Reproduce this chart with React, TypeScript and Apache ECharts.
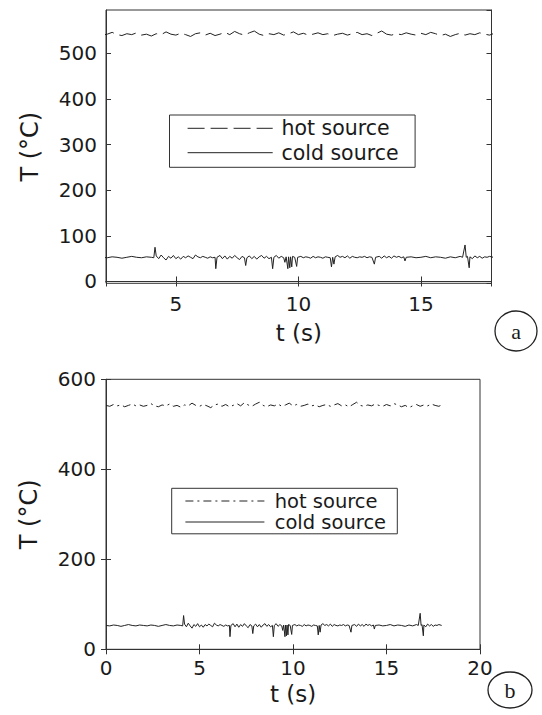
import React, { useEffect, useRef } from "react";
import * as echarts from "echarts";

// ---- data (shared by panels a and b) ----
const coldTimes = [
  0.0, 0.2, 0.4, 0.6, 0.8, 1.0, 1.2, 1.4, 1.6, 1.8, 2.0, 2.2, 2.4, 2.6, 2.8, 3.0, 3.2, 3.4, 3.6, 3.8,
  4.0, 4.1, 4.15, 4.2, 4.3, 4.4, 4.5, 4.6, 4.7, 4.8, 4.9, 5.0, 5.1, 5.2, 5.3, 5.4, 5.5, 5.6, 5.7, 5.8,
  5.9, 6.0, 6.1, 6.2, 6.3, 6.4, 6.5, 6.6, 6.63, 6.68, 6.8, 6.9, 7.0, 7.1, 7.2, 7.3, 7.4, 7.5, 7.6, 7.7,
  7.8, 7.85, 7.9, 8.0, 8.1, 8.2, 8.3, 8.4, 8.5, 8.6, 8.7, 8.8, 8.9, 8.95, 9.0, 9.1, 9.2, 9.3, 9.4, 9.45,
  9.5, 9.57, 9.6, 9.65, 9.68, 9.73, 9.76, 9.85, 9.93, 9.97, 10.1, 10.2, 10.3, 10.4, 10.5, 10.6, 10.7, 10.8, 10.9, 11.0,
  11.1, 11.2, 11.3, 11.35, 11.4, 11.45, 11.5, 11.6, 11.7, 11.8, 11.9, 12.0, 12.1, 12.2, 12.3, 12.4, 12.5, 12.6, 12.7, 12.8,
  12.9, 13.0, 13.1, 13.15, 13.3, 13.4, 13.5, 13.6, 13.7, 13.8, 13.9, 14.0, 14.1, 14.2, 14.3, 14.35, 14.4, 14.6, 14.8, 15.0,
  15.2, 15.4, 15.6, 15.8, 16.0, 16.2, 16.4, 16.6, 16.7, 16.8, 16.85, 16.9, 16.97, 17.0, 17.1, 17.2, 17.3, 17.4, 17.5, 17.6,
  17.7, 17.8, 17.95,
];
const coldTemps = [
  53, 52, 54, 53, 51, 53, 55, 53, 52, 54, 53, 52, 54, 53, 51, 53, 55, 53, 52, 54,
  53, 52, 75, 56, 50, 58, 52, 47, 55, 51, 57, 50, 54, 49, 55, 52, 56, 53, 50, 58,
  54, 52, 55, 53, 51, 54, 52, 53, 28, 53, 57, 50, 56, 49, 55, 51, 57, 52, 48, 55,
  52, 35, 52, 56, 50, 55, 49, 54, 57, 51, 55, 50, 53, 28, 53, 57, 51, 55, 52, 42,
  54, 28, 54, 30, 54, 32, 55, 53, 33, 53, 55, 52, 54, 53, 51, 55, 52, 54, 53, 51,
  54, 53, 52, 32, 53, 38, 54, 57, 53, 55, 52, 56, 51, 55, 53, 52, 54, 53, 55, 52,
  54, 53, 38, 53, 55, 51, 56, 52, 55, 51, 56, 53, 55, 52, 54, 45, 53, 54, 52, 53,
  55, 52, 54, 53, 51, 54, 52, 55, 53, 80, 53, 55, 30, 54, 50, 56, 52, 55, 51, 54,
  53, 55, 53,
];
const hotTimes = [
  0.0, 0.2, 0.4, 0.6, 0.8, 1.0, 1.2, 1.4, 1.6, 1.8, 2.0, 2.2, 2.4, 2.6, 2.8, 3.0, 3.2, 3.4, 3.6, 3.8,
  4.0, 4.2, 4.4, 4.6, 4.8, 5.0, 5.2, 5.4, 5.6, 5.8, 6.0, 6.2, 6.4, 6.6, 6.8, 7.0, 7.2, 7.4, 7.6, 7.8,
  8.0, 8.2, 8.4, 8.6, 8.8, 9.0, 9.2, 9.4, 9.6, 9.8, 10.0, 10.2, 10.4, 10.6, 10.8, 11.0, 11.2, 11.4, 11.6, 11.8,
  12.0, 12.2, 12.4, 12.6, 12.8, 13.0, 13.2, 13.4, 13.6, 13.8, 14.0, 14.2, 14.4, 14.6, 14.8, 15.0, 15.2, 15.4, 15.6, 15.8,
  16.0, 16.2, 16.4, 16.6, 16.8, 17.0, 17.2, 17.4, 17.6, 17.8, 17.95,
];
const hotTemps = [
  542, 540, 544, 541, 543, 539, 542, 545, 541, 543, 540, 542, 546, 541, 539, 543, 541, 545, 540, 542,
  538, 543, 541, 547, 542, 540, 544, 541, 537, 543, 545, 540, 544, 539, 542, 546, 541, 548, 543, 540,
  545, 549, 542, 539, 543, 541, 545, 540, 543, 547, 541, 544, 540, 542, 545, 541, 543, 539, 542, 544,
  540, 543, 546, 541, 543, 539, 544, 549, 542, 540, 543, 541, 545, 542, 540, 544, 541, 546, 543, 539,
  542, 537, 541, 544, 540, 543, 541, 545, 542, 540, 543,
];

const seriesNames = ["hot source", "cold source"];
const panelTags = ["a", "b"];
const xTicksA = [5, 10, 15];
const yTicksA = [0, 100, 200, 300, 400, 500];

const FONT = "DejaVu Sans";
const INK = "#1a1a1a";

function zip(ts: number[], vs: number[]) {
  return ts.map((t, i) => [t, vs[i]]);
}

export default function App() {
  const ref = useRef<HTMLDivElement>(null);
  useEffect(() => {
    if (!ref.current) return;
    const chart = echarts.init(ref.current, undefined, { renderer: "svg" });
    const hot = zip(hotTimes, hotTemps);
    const cold = zip(coldTimes, coldTemps);

    const gridA = { left: 106, top: 10, width: 385.5, height: 273.3 };
    const gridB = { left: 106, top: 379.3, width: 374, height: 270 };

    const lbl = { fontFamily: FONT, fontSize: 20, color: INK };
    const tick = { show: true, inside: true, length: 5, lineStyle: { color: "#333" } };
    const line = { show: true, lineStyle: { color: "#333", width: 1 } };
    const mirror = { axisLabel: { show: false }, axisTick: tick, axisLine: line, splitLine: { show: false } };
    const legText = (x: number, y: number, text: string, size: number) => ({
      type: "text", x, y,
      style: { text, font: `${size}px "${FONT}"`, fontSize: size, fontFamily: FONT, lineHeight: size - 1, fill: INK, verticalAlign: "middle" },
    });

    const option: any = {
      animation: false,
      backgroundColor: "#fff",
      grid: [
        { ...gridA, show: true, borderColor: "#333", borderWidth: 1 },
        { ...gridB, show: true, borderColor: "#333", borderWidth: 1 },
      ],
      xAxis: [
        {
          type: "value", gridIndex: 0, min: 2.15, max: 17.88, splitNumber: 3,
          axisLabel: { ...lbl, margin: 11, formatter: (v: number) => (xTicksA.includes(v) ? String(v) : ""), showMinLabel: false, showMaxLabel: false },
          axisTick: tick, axisLine: line, splitLine: { show: false },
          name: "t (s)", nameLocation: "middle", nameGap: 38,
          nameTextStyle: { fontFamily: FONT, fontSize: 23, color: INK },
        },
        {
          type: "value", gridIndex: 1, min: 0, max: 20, interval: 5,
          axisLabel: { ...lbl, margin: 9 },
          axisTick: tick, axisLine: line, splitLine: { show: false },
          name: "t (s)", nameLocation: "middle", nameGap: 33,
          nameTextStyle: { fontFamily: FONT, fontSize: 23, color: INK },
        },
        { type: "value", gridIndex: 0, position: "top", min: 2.15, max: 17.88, splitNumber: 3, ...mirror },
        { type: "value", gridIndex: 1, position: "top", min: 0, max: 20, interval: 5, ...mirror },
      ],
      yAxis: [
        {
          type: "value", gridIndex: 0, min: -4, max: 595, splitNumber: 6,
          axisLabel: { ...lbl, margin: 9, formatter: (v: number) => (yTicksA.includes(v) ? String(v) : ""), showMinLabel: false, showMaxLabel: false },
          axisTick: tick, axisLine: line, splitLine: { show: false },
          name: "T (°C)", nameLocation: "middle", nameGap: 64, nameRotate: 90,
          nameTextStyle: { fontFamily: FONT, fontSize: 24, color: INK },
        },
        {
          type: "value", gridIndex: 1, min: 0, max: 600, interval: 200,
          axisLabel: { ...lbl, margin: 10 },
          axisTick: tick, axisLine: line, splitLine: { show: false },
          name: "T (°C)", nameLocation: "middle", nameGap: 65, nameRotate: 90,
          nameTextStyle: { fontFamily: FONT, fontSize: 24, color: INK },
        },
        { type: "value", gridIndex: 0, position: "right", min: -4, max: 595, splitNumber: 6, ...mirror },
        { type: "value", gridIndex: 1, position: "right", min: 0, max: 600, interval: 200, ...mirror },
      ],
      series: [
        {
          type: "line", name: seriesNames[0], xAxisIndex: 0, yAxisIndex: 0, data: hot,
          showSymbol: false, clip: true, lineStyle: { color: "#222", width: 1, type: [17, 6] },
        },
        {
          type: "line", name: seriesNames[1], xAxisIndex: 0, yAxisIndex: 0, data: cold,
          showSymbol: false, clip: true, lineStyle: { color: "#222", width: 1, type: "solid" },
        },
        {
          type: "line", name: seriesNames[0], xAxisIndex: 1, yAxisIndex: 1, data: hot,
          showSymbol: false, clip: true, lineStyle: { color: "#222", width: 1, type: [8, 4, 2, 4] },
        },
        {
          type: "line", name: seriesNames[1], xAxisIndex: 1, yAxisIndex: 1, data: cold,
          showSymbol: false, clip: true, lineStyle: { color: "#222", width: 1, type: "solid" },
        },
      ],
      graphic: [
        // legend a
        { type: "rect", shape: { x: 169.5, y: 115, width: 245.6, height: 52.3 }, style: { fill: "#fff", stroke: "#333", lineWidth: 1 } },
        { type: "line", shape: { x1: 187.6, y1: 128.3, x2: 272.7, y2: 128.3 }, style: { stroke: "#222", lineWidth: 1, lineDash: [17, 6] } },
        { type: "line", shape: { x1: 187.6, y1: 152.7, x2: 272.7, y2: 152.7 }, style: { stroke: "#222", lineWidth: 1 } },
        legText(281.4, 128.3, seriesNames[0], 20.5),
        legText(281.4, 152.7, seriesNames[1], 20.5),
        // legend b
        { type: "rect", shape: { x: 171.7, y: 488.3, width: 225.6, height: 45.5 }, style: { fill: "#fff", stroke: "#333", lineWidth: 1 } },
        { type: "line", shape: { x1: 185.4, y1: 501, x2: 264.4, y2: 501 }, style: { stroke: "#222", lineWidth: 1, lineDash: [8, 4, 2, 4] } },
        { type: "line", shape: { x1: 185.4, y1: 522, x2: 264.4, y2: 522 }, style: { stroke: "#222", lineWidth: 1 } },
        legText(274.7, 501, seriesNames[0], 19.5),
        legText(274.7, 522, seriesNames[1], 19.5),
        // panel tags
        { type: "ellipse", shape: { cx: 516, cy: 331, rx: 21, ry: 20 }, style: { fill: "none", stroke: "#222", lineWidth: 1.3 } },
        { type: "text", x: 516, y: 331, style: { text: panelTags[0], font: '22px "Liberation Serif"', fill: INK, align: "center", verticalAlign: "middle" } },
        { type: "ellipse", shape: { cx: 510, cy: 690, rx: 22, ry: 18 }, style: { fill: "none", stroke: "#222", lineWidth: 1.3 } },
        { type: "text", x: 510, y: 690, style: { text: panelTags[1], font: '22px "Liberation Serif"', fill: INK, align: "center", verticalAlign: "middle" } },
      ],
    };
    chart.setOption(option);
    return () => chart.dispose();
  }, []);
  return <div ref={ref} style={{ position: "fixed", left: 0, top: 0, width: 542, height: 715, background: "#fff" }} />;
}
